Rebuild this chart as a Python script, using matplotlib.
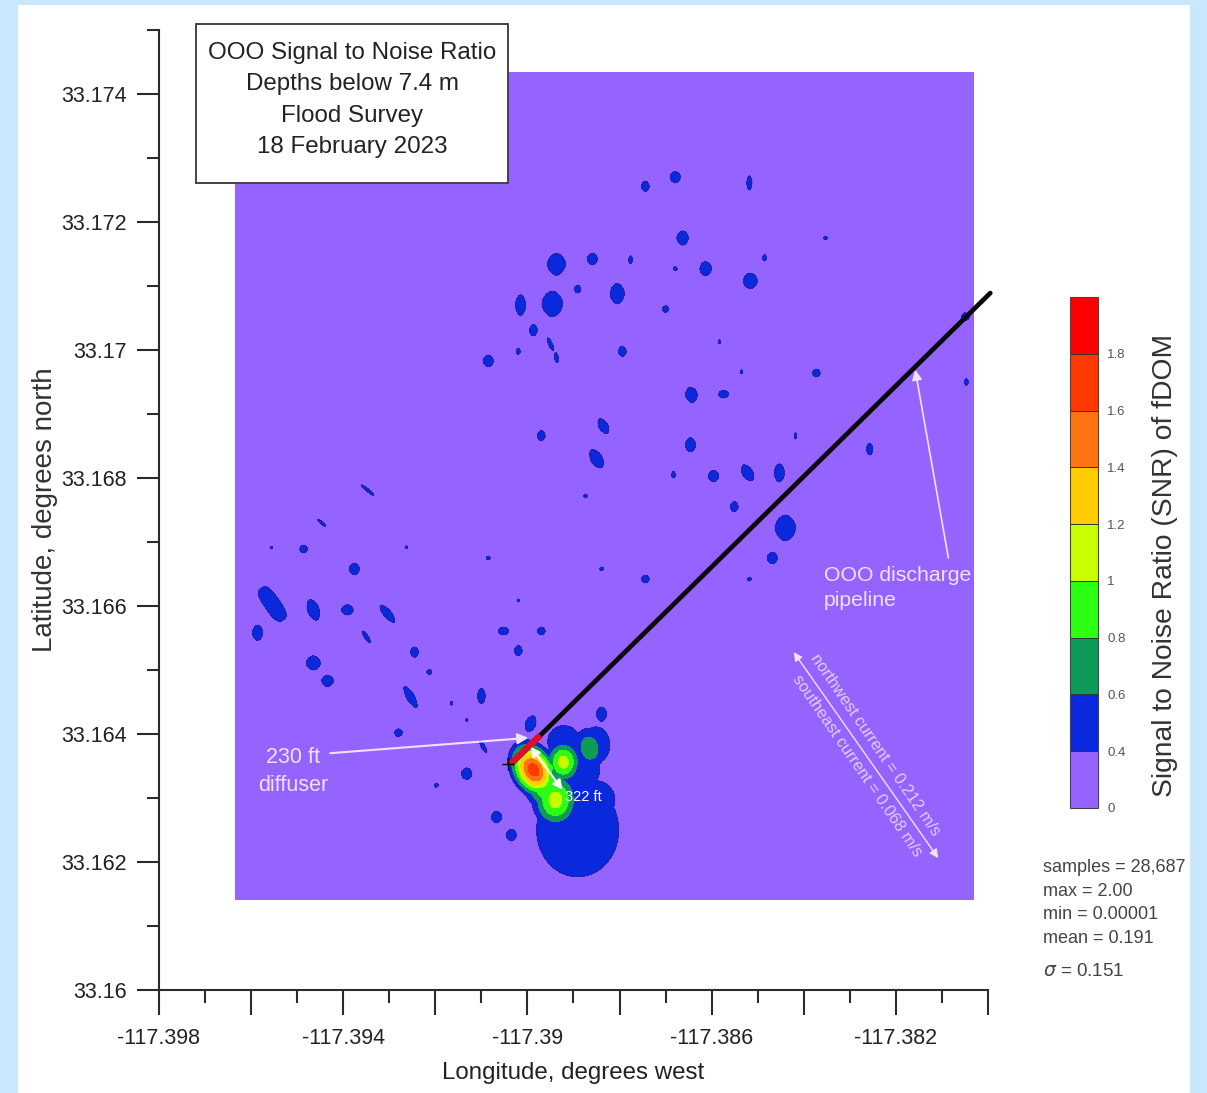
import numpy as np
import matplotlib
matplotlib.use("Agg")
import matplotlib.pyplot as plt
from matplotlib.patches import Rectangle

plt.rcParams['font.family'] = ['Liberation Sans', 'DejaVu Sans']

# SNR contour levels and band colours
levels = [0, 0.4, 0.6, 0.8, 1.0, 1.2, 1.4, 1.6, 1.8, 2.0]
band_colors = ['#9563FF', '#0A28DC', '#0E9A58', '#2CFF14', '#C8FF00',
               '#FFCC00', '#FF7410', '#FF3A00', '#FF0000']
cb_labels = ['0', '0.4', '0.6', '0.8', '1', '1.2', '1.4', '1.6', '1.8', '']

# survey area
survey_lon = [-117.39634, -117.38032]
survey_lat = [33.16142, 33.17434]

# isolated patches just above 0.4: centre, half axes (1e-5 deg), tilt
blob_lon = [-117.38744, -117.38679, -117.38518, -117.38663, -117.38353, -117.38937, -117.38859,
            -117.38776, -117.38679, -117.38613, -117.38485, -117.38516, -117.38891, -117.38805,
            -117.38946, -117.39015, -117.38700, -117.38987, -117.38950, -117.38937, -117.39020,
            -117.39085, -117.38794, -117.38583, -117.38535, -117.38373, -117.38644, -117.38574,
            -117.38047, -117.38049, -117.38835, -117.38970, -117.38850, -117.38646, -117.38418,
            -117.38257, -117.38683, -117.38596, -117.38522, -117.38453, -117.38874, -117.38551,
            -117.38440, -117.38468, -117.38518, -117.38744, -117.38839, -117.39085, -117.39263,
            -117.39556, -117.39486, -117.39376, -117.39347, -117.39447, -117.39554, -117.39586,
            -117.39465, -117.39391, -117.39304, -117.39350, -117.39465, -117.39434, -117.39245,
            -117.39213, -117.39254, -117.39165, -117.39100, -117.39052, -117.39020, -117.38970,
            -117.39132, -117.39280, -117.39096, -117.38993, -117.38839, -117.39132, -117.39198,
            -117.39067, -117.39035, -117.39020]
blob_lat = [33.17256, 33.17270, 33.17261, 33.17175, 33.17175, 33.17134, 33.17142,
            33.17141, 33.17127, 33.17127, 33.17144, 33.17108, 33.17095, 33.17088,
            33.17072, 33.17070, 33.17064, 33.17031, 33.17009, 33.16988, 33.16998,
            33.16983, 33.16998, 33.17013, 33.16966, 33.16964, 33.16930, 33.16931,
            33.16950, 33.17052, 33.16881, 33.16866, 33.16830, 33.16852, 33.16866,
            33.16845, 33.16805, 33.16803, 33.16808, 33.16808, 33.16772, 33.16755,
            33.16722, 33.16675, 33.16642, 33.16642, 33.16658, 33.16675, 33.16692,
            33.16691, 33.16689, 33.16658, 33.16781, 33.16730, 33.16603, 33.16558,
            33.16594, 33.16594, 33.16588, 33.16552, 33.16511, 33.16483, 33.16528,
            33.16497, 33.16458, 33.16448, 33.16459, 33.16561, 33.16530, 33.16561,
            33.16422, 33.16402, 33.16380, 33.16416, 33.16431, 33.16338, 33.16320,
            33.16270, 33.16242, 33.16609]
blob_a = [8, 9, 11, 11, 3, 17, 9, 6, 3, 11, 5, 12, 6, 16, 20, 16, 5, 9, 11, 8, 5,
          9, 8, 3, 3, 6, 12, 8, 5, 6, 13, 8, 16, 11, 5, 9, 5, 9, 14, 14, 3, 8, 20,
          9, 3, 6, 3, 3, 2, 2, 6, 9, 13, 8, 30, 12, 17, 9, 17, 11, 11, 9, 8, 4, 19,
          3, 12, 8, 8, 6, 2, 6, 11, 13, 11, 9, 3, 9, 9, 2]
blob_b = [6, 8, 4, 9, 3, 14, 8, 3, 3, 9, 3, 11, 5, 11, 16, 8, 5, 6, 3, 3, 3,
          8, 6, 2, 2, 6, 9, 6, 3, 6, 7, 6, 9, 8, 2, 5, 3, 8, 8, 8, 3, 6, 16,
          8, 3, 6, 3, 3, 2, 2, 6, 8, 2, 2, 12, 8, 9, 8, 6, 3, 11, 9, 6, 4, 6,
          2, 6, 6, 6, 6, 2, 6, 3, 8, 8, 8, 3, 8, 8, 2]
blob_tilt = [90, 90, 90, 90, 0, 90, 90, 90, 0, 90, 90, 90, 90, 90, 90, 90, 0, 90, -65, -80, 90,
             90, 90, 90, 90, 0, 100, 0, 90, 0, -60, 90, -60, 90, 90, 90, 90, 90, -60, 90, 0, 90, 90,
             90, 0, 0, 0, 0, 0, 0, 0, 90, -40, -40, -55, 90, -70, 0, -50, -55, 0, 0, 90,
             0, -60, 90, 90, 0, 90, 0, 0, 0, -60, 70, 90, 90, 0, 90, 90, 0]

# plume at the diffuser: centre, half axes at 0.4, tilt, peak SNR
plume_lon = [-117.38891, -117.38921, -117.38852, -117.38885, -117.38852, -117.38928,
             -117.38987, -117.38939, -117.38922, -117.38865, -117.38961, -117.38957]
plume_lat = [33.16250, 33.16388, 33.16383, 33.16344, 33.16297, 33.16297,
             33.16344, 33.16297, 33.16356, 33.16378, 33.16320, 33.16347]
plume_a = [73, 25, 28, 30, 30, 45, 50, 44, 34, 31, 52, 28]
plume_b = [64, 25, 22, 30, 30, 45, 36, 36, 28, 23, 34, 24]
plume_tilt = [90, 0, 90, 0, 0, 0, -60, 90, 90, 100, -60, 0]
plume_peak = [0.58, 0.58, 0.58, 0.58, 0.58, 0.58, 1.7, 1.08, 1.08, 0.72, 1.0, 0.85]

# pipeline and diffuser
pipe_lon = [-117.38972, -117.37995]
pipe_lat = [33.16398, 33.17089]
diff_lon = [-117.39037, -117.38972]
diff_lat = [33.16353, 33.16398]

xticks_major = [-117.398, -117.396, -117.394, -117.392, -117.390, -117.388, -117.386, -117.384, -117.382, -117.380]
xticks_minor = [-117.397, -117.395, -117.393, -117.391, -117.389, -117.387, -117.385, -117.383, -117.381]
xlabels = ['-117.398', '', '-117.394', '', '-117.39', '', '-117.386', '', '-117.382', '']
yticks_major = [33.160, 33.162, 33.164, 33.166, 33.168, 33.170, 33.172, 33.174]
yticks_minor = [33.161, 33.163, 33.165, 33.167, 33.169, 33.171, 33.173, 33.175]
ylabels = ['33.16', '33.162', '33.164', '33.166', '33.168', '33.17', '33.172', '33.174']

title_text = "OOO Signal to Noise Ratio\nDepths below 7.4 m\nFlood Survey\n18 February 2023"
stats_text = "samples = 28,687\nmax = 2.00\nmin = 0.00001\nmean = 0.191"

W, H = 1207, 1093
ASPECT = 0.7196  # lon degree on the page relative to a lat degree

fig = plt.figure(figsize=(W / 100, H / 100), dpi=100, facecolor='#C9E8FF')
fig.add_artist(Rectangle((18 / W, 0), 1172 / W, 1 - 5 / H, transform=fig.transFigure,
                         facecolor='white', edgecolor='none', zorder=-1))

ax = fig.add_axes([159 / W, 1 - 990 / H, 829 / W, 960 / H], facecolor='none')
ax.set_xlim(-117.398, -117.380)
ax.set_ylim(33.160, 33.175)

# build the SNR surface from the patches
lon = np.linspace(survey_lon[0], survey_lon[1], 1300)
lat = np.linspace(survey_lat[0], survey_lat[1], 1400)
LON, LAT = np.meshgrid(lon, lat)
snr = np.full(LON.shape, 0.05)


def add_patch(clon, clat, a, b, tilt, peak, p):
    t = np.radians(tilt)
    dx = (LON - clon) * ASPECT / 1e-5
    dy = (LAT - clat) / 1e-5
    u = (dx * np.cos(t) + dy * np.sin(t)) / a
    v = (-dx * np.sin(t) + dy * np.cos(t)) / b
    d2 = (np.abs(u) ** p + np.abs(v) ** p) ** (2 / p)
    d2 = np.minimum(d2, 50)
    return np.maximum(snr, peak * np.exp(-d2 * np.log(peak / 0.4)))


for i in range(len(blob_lon)):
    shape = 3 if blob_a[i] >= 25 else 1.7
    snr = add_patch(blob_lon[i], blob_lat[i], blob_a[i], blob_b[i], blob_tilt[i], 0.5, shape)
for i in range(len(plume_lon)):
    snr = add_patch(plume_lon[i], plume_lat[i], plume_a[i], plume_b[i], plume_tilt[i], plume_peak[i], 2)

cf = ax.contourf(LON, LAT, snr, levels=levels, colors=band_colors)
ax.contour(LON, LAT, snr, levels=[0.4], colors='#2A1F9A', linewidths=0.5)

ax.plot(pipe_lon, pipe_lat, color='#0A0A0A', lw=3.4, solid_capstyle='round', clip_on=False, zorder=4)
ax.plot(diff_lon, diff_lat, color='#D8102E', lw=4.8, solid_capstyle='butt', zorder=5)
ax.plot(diff_lon[0] - 0.00006, diff_lat[0], marker='+', color='black', ms=8, mew=1, zorder=5)

# axes
for s in ['top', 'right']:
    ax.spines[s].set_visible(False)
for s in ['left', 'bottom']:
    ax.spines[s].set_linewidth(1.5)
    ax.spines[s].set_color('#2B2B2B')
ax.set_xticks(xticks_major)
ax.set_xticklabels(xlabels)
ax.set_xticks(xticks_minor, minor=True)
ax.set_yticks(yticks_major)
ax.set_yticklabels(ylabels)
ax.set_yticks(yticks_minor, minor=True)
ax.tick_params(axis='x', which='major', length=18, width=1.5, color='#2B2B2B', labelsize=15.5, pad=9, labelcolor='#222222')
ax.tick_params(axis='x', which='minor', length=9.5, width=1.5, color='#2B2B2B')
ax.tick_params(axis='y', which='major', length=16, width=1.5, color='#2B2B2B', labelsize=15.5, pad=7, labelcolor='#222222')
ax.tick_params(axis='y', which='minor', length=8.5, width=1.5, color='#2B2B2B')
ax.set_xlabel("Longitude, degrees west", fontsize=17.4, color='#222222')
ax.set_ylabel("Latitude, degrees north", fontsize=20, color='#333333')
ax.xaxis.set_label_coords(0.499, -0.075)
ax.yaxis.set_label_coords(-0.122, 0.5)

# annotations on the map
pale = '#EFE2F8'
ax.annotate('', xy=(-117.38998, 33.16394), xytext=(-117.39428, 33.16370), zorder=6,
            arrowprops=dict(arrowstyle='-|>', color=pale, lw=1.5, mutation_scale=16, shrinkA=0, shrinkB=0))
ax.annotate('', xy=(-117.38924, 33.16313), xytext=(-117.38993, 33.16380), zorder=6,
            arrowprops=dict(arrowstyle='<|-|>', color='white', lw=1.5, mutation_scale=14, shrinkA=0, shrinkB=0))
ax.annotate('', xy=(-117.38158, 33.16969), xytext=(-117.38086, 33.16675), zorder=6,
            arrowprops=dict(arrowstyle='-|>', color=pale, lw=1.2, mutation_scale=15, shrinkA=0, shrinkB=0))
ax.annotate('', xy=(-117.38422, 33.16528), xytext=(-117.38108, 33.16206), zorder=6,
            arrowprops=dict(arrowstyle='<|-|>', color=pale, lw=1.0, mutation_scale=13, shrinkA=0, shrinkB=0))

ax.text(-117.39508, 33.16341, "230 ft\ndiffuser", color=pale, fontsize=15.5, ha='center', va='center', linespacing=1.42)
ax.text(-117.38878, 33.16302, "322 ft", color='white', fontsize=10.5, ha='center', va='center', zorder=7)
ax.text(-117.38357, 33.16628, "OOO discharge\npipeline", color=pale, fontsize=15.3, ha='left', va='center', linespacing=1.45)
ax.text(-117.38245, 33.16383, "northwest current = 0.212 m/s", color='#E3CFF5', fontsize=11.8,
        rotation=-55.5, rotation_mode='anchor', ha='center', va='center')
ax.text(-117.38284, 33.16350, "southeast current = 0.068 m/s", color='#E3CFF5', fontsize=11.8,
        rotation=-55.5, rotation_mode='anchor', ha='center', va='center')

# title box
fig.add_artist(Rectangle((196 / W, 1 - 183 / H), 312 / W, 159 / H, transform=fig.transFigure,
                         facecolor='white', edgecolor='#444444', lw=1.4, zorder=8))
fig.text(352 / W, 1 - 100 / H, title_text, fontsize=17.4, color='#222222', ha='center', va='center',
         linespacing=1.53, zorder=9)

# colorbar
cax = fig.add_axes([1070 / W, 1 - 808 / H, 28 / W, 511 / H])
cb = fig.colorbar(cf, cax=cax, ticks=levels, drawedges=True)
cb.set_ticklabels(cb_labels)
cb.ax.tick_params(length=0, labelsize=9.5, labelcolor='#555555', pad=6.5)
cb.outline.set_edgecolor('#444444')
cb.outline.set_linewidth(0.8)
cb.dividers.set_color('#333333')
cb.dividers.set_linewidth(0.7)
fig.text(1165 / W, 1 - 565 / H, "Signal to Noise Ratio (SNR) of fDOM", rotation=90, fontsize=20.3,
         color='#333333', ha='center', va='center')

# summary statistics
fig.text(1043 / W, 1 - 903 / H, stats_text, fontsize=13, color='#444444', ha='left', va='center', linespacing=1.53)
fig.text(1043 / W, 1 - 971 / H, r"$\sigma$ = 0.151", fontsize=13.5, color='#444444', ha='left', va='center',
         math_fontfamily='dejavusans')

fig.savefig("out.png", dpi=100, facecolor=fig.get_facecolor())
